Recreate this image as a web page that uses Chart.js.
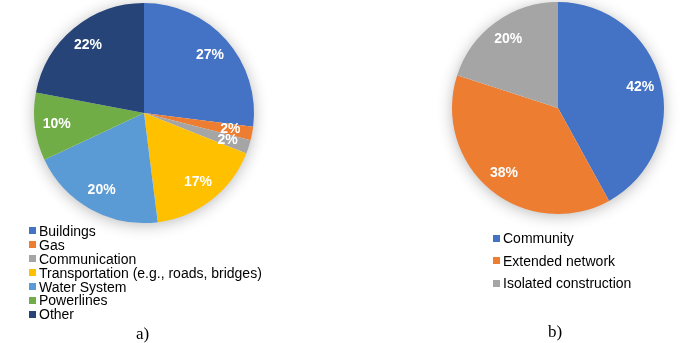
<!DOCTYPE html>
<html>
<head>
<meta charset="utf-8">
<script src="https://cdn.jsdelivr.net/npm/chart.js@4.4.0/dist/chart.umd.min.js"></script>
<style>
    body { margin: 0; width: 685px; height: 343px; background: #fff; position: relative; overflow: hidden; font-family: "Liberation Sans", Arial, sans-serif; }
    .pie { position: absolute; }
    .legend { position: absolute; font-size: 14px; color: #000; }
    .legend-item { display: flex; align-items: center; white-space: nowrap; }
    .legend-box { width: 7px; height: 7px; margin-right: 3px; }
    .caption { position: absolute; font-family: "Liberation Serif", "Times New Roman", serif; font-size: 17px; color: #000; }
</style>
</head>
<body>
<div class="pie" id="wrapA" style="left:14px; top:0px; width:260px; height:243px;"><canvas id="pieA"></canvas></div>
<div class="pie" id="wrapB" style="left:432px; top:0px; width:252px; height:234px;"><canvas id="pieB"></canvas></div>
<div class="legend" id="legendA" style="left:29px; top:224px;"></div>
<div class="legend" id="legendB" style="left:493px; top:227px;"></div>
<div class="caption" style="left:136px; top:324px;">a)</div>
<div class="caption" style="left:548px; top:322px;">b)</div>
<script>
const labelsA = ['Buildings', 'Gas', 'Communication', 'Transportation (e.g., roads, bridges)', 'Water System', 'Powerlines', 'Other'];
const valuesA = [27, 2, 2, 17, 20, 10, 22];
const colorsA = ['#4472C4', '#ED7D31', '#A5A5A5', '#FFC000', '#5B9BD5', '#70AD47', '#264478'];

const labelsB = ['Community', 'Extended network', 'Isolated construction'];
const valuesB = [42, 38, 20];
const colorsB = ['#4472C4', '#ED7D31', '#A5A5A5'];

// soft shadow behind the pie
const shadowPlugin = {
    id: 'pieShadow',
    beforeDatasetsDraw(chart) {
        const arc = chart.getDatasetMeta(0).data[0];
        if (!arc) return;
        const p = arc.getProps(['x', 'y', 'outerRadius'], true);
        const ctx = chart.ctx;
        ctx.save();
        ctx.shadowColor = 'rgba(0,0,0,0.3)';
        ctx.shadowBlur = 16;
        ctx.shadowOffsetY = 2;
        ctx.fillStyle = '#fff';
        ctx.beginPath();
        ctx.arc(p.x, p.y, p.outerRadius - 1, 0, Math.PI * 2);
        ctx.fill();
        ctx.restore();
    }
};

// percentage labels on the slices
const percentPlugin = {
    id: 'percentLabels',
    afterDatasetsDraw(chart) {
        const ctx = chart.ctx;
        const data = chart.data.datasets[0].data;
        const total = data.reduce((a, b) => a + b, 0);
        ctx.save();
        ctx.font = 'bold 14px "Liberation Sans", Arial, sans-serif';
        ctx.fillStyle = '#fff';
        ctx.textAlign = 'center';
        ctx.textBaseline = 'middle';
        chart.getDatasetMeta(0).data.forEach((arc, i) => {
            const p = arc.getProps(['x', 'y', 'startAngle', 'endAngle', 'outerRadius'], true);
            const mid = (p.startAngle + p.endAngle) / 2;
            const r = p.outerRadius * 0.8;
            const txt = Math.round(data[i] / total * 100) + '%';
            ctx.fillText(txt, p.x + Math.cos(mid) * r, p.y + Math.sin(mid) * r);
        });
        ctx.restore();
    }
};

function makePie(id, labels, values, colors, padding) {
    return new Chart(document.getElementById(id).getContext('2d'), {
        type: 'pie',
        data: {
            labels: labels,
            datasets: [{
                data: values,
                backgroundColor: colors,
                borderWidth: 0,
                hoverOffset: 0
            }]
        },
        options: {
            responsive: true,
            maintainAspectRatio: false,
            animation: false,
            layout: { padding: padding },
            plugins: {
                legend: { display: false },
                tooltip: { enabled: false }
            }
        },
        plugins: [shadowPlugin, percentPlugin]
    });
}

function makeLegend(id, labels, colors, lineHeight) {
    const box = document.getElementById(id);
    labels.forEach((label, i) => {
        const item = document.createElement('div');
        item.classList.add('legend-item');
        item.style.height = lineHeight + 'px';
        const sw = document.createElement('div');
        sw.classList.add('legend-box');
        sw.style.background = colors[i];
        item.appendChild(sw);
        const t = document.createElement('span');
        t.textContent = label;
        item.appendChild(t);
        box.appendChild(item);
    });
}

makePie('pieA', labelsA, valuesA, colorsA, { top: 3, bottom: 20, left: 20, right: 20 });
makePie('pieB', labelsB, valuesB, colorsB, { top: 2, bottom: 20, left: 20, right: 20 });
makeLegend('legendA', labelsA, colorsA, 13.9);
makeLegend('legendB', labelsB, colorsB, 22.5);
</script>
</body>
</html>
